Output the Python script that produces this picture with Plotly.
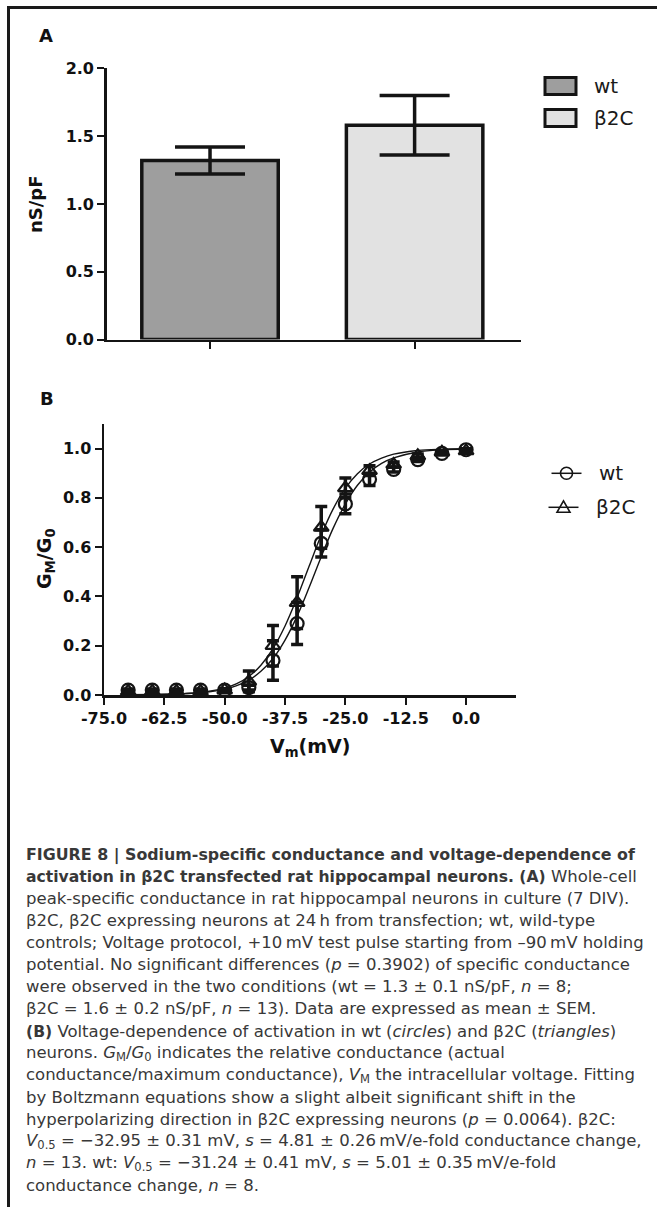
import plotly.graph_objects as go

W, H = 657, 1207


def px(x):
    return x / W


def py(y):
    return 1 - y / H


# ---------------- Panel A data ----------------
groups = ["wt", "β2C"]
group_pos = [0, 1]
conductance = [1.32, 1.58]
conductance_sem = [0.10, 0.22]
bar_colors = ["#9e9e9e", "#e2e2e2"]
a_yticks = [0.0, 0.5, 1.0, 1.5, 2.0]

# ---------------- Panel B data ----------------
vm = [-70, -65, -60, -55, -50, -45, -40, -35, -30, -25, -20, -15, -10, -5, 0]
g_wt = [0.02, 0.02, 0.02, 0.02, 0.02, 0.03, 0.14, 0.29, 0.615, 0.775, 0.875, 0.915, 0.955, 0.98, 0.995]
g_wt_sem = [0.004, 0.004, 0.004, 0.004, 0.004, 0.01, 0.08, 0.085, 0.055, 0.04, 0.025, 0.01, 0.008, 0.005, 0.004]
g_b2c = [0.015, 0.015, 0.015, 0.015, 0.02, 0.055, 0.20, 0.375, 0.68, 0.84, 0.91, 0.935, 0.97, 0.985, 0.99]
g_b2c_sem = [0.004, 0.004, 0.004, 0.004, 0.005, 0.042, 0.082, 0.105, 0.085, 0.04, 0.02, 0.01, 0.008, 0.005, 0.004]

# Boltzmann fit curves
fit_v = [-70, -65, -60, -55, -50, -47.5, -45, -42.5, -40, -37.5, -35, -32.5, -30,
         -27.5, -25, -22.5, -20, -17.5, -15, -10, -5, 0]
fit_wt = [0.001, 0.002, 0.004, 0.009, 0.023, 0.038, 0.06, 0.096, 0.148, 0.223, 0.32,
          0.437, 0.561, 0.678, 0.775, 0.851, 0.904, 0.94, 0.962, 0.986, 0.995, 0.998]
fit_b2c = [0.001, 0.0015, 0.004, 0.0104, 0.028, 0.046, 0.075, 0.121, 0.188, 0.28, 0.395,
           0.523, 0.649, 0.756, 0.839, 0.898, 0.937, 0.961, 0.977, 0.992, 0.997, 0.999]

b_xticks = [-75, -62.5, -50, -37.5, -25, -12.5, 0]
b_xticktext = ["-75.0", "-62.5", "-50.0", "-37.5", "-25.0", "-12.5", "0.0"]
b_yticks = [0.0, 0.2, 0.4, 0.6, 0.8, 1.0]

BSPAN = '<span style="font-size:15.6px"><b>{}</b></span>'
caption_lines = [
    '<span style="font-size:15.85px"><b>FIGURE 8 | Sodium-specific conductance and voltage-dependence of</b></span>',
    BSPAN.format("activation in β2C transfected rat hippocampal neurons. (A)") + " Whole-cell",
    "peak-specific conductance in rat hippocampal neurons in culture (7 DIV).",
    "β2C, β2C expressing neurons at 24\u2009h from transfection; wt, wild-type",
    "controls; Voltage protocol, +10\u2009mV test pulse starting from –90\u2009mV holding",
    "potential. No significant differences (<i>p</i> = 0.3902) of specific conductance",
    "were observed in the two conditions (wt = 1.3 ± 0.1 nS/pF, <i>n</i> = 8;",
    "β2C = 1.6 ± 0.2 nS/pF, <i>n</i> = 13). Data are expressed as mean ± SEM.",
    BSPAN.format("(B)") + " Voltage-dependence of activation in wt (<i>circles</i>) and β2C (<i>triangles</i>)",
    "neurons. <i>G</i><sub>M</sub>/<i>G</i><sub>0</sub> indicates the relative conductance (actual",
    "conductance/maximum conductance), <i>V</i><sub>M</sub> the intracellular voltage. Fitting",
    "by Boltzmann equations show a slight albeit significant shift in the",
    "hyperpolarizing direction in β2C expressing neurons (<i>p</i> = 0.0064). β2C:",
    "<i>V</i><sub>0.5</sub> = −32.95 ± 0.31 mV, <i>s</i> = 4.81 ± 0.26\u2009mV/e-fold conductance change,",
    "<i>n</i> = 13. wt: <i>V</i><sub>0.5</sub> = −31.24 ± 0.41 mV, <i>s</i> = 5.01 ± 0.35\u2009mV/e-fold",
    "conductance change, <i>n</i> = 8.",
]

FONT = "DejaVu Sans"
BOLD16 = dict(family=FONT, size=16, color="#111111", weight="bold")

fig = go.Figure()

# ---- Panel A bars ----
for i in range(len(groups)):
    fig.add_trace(go.Bar(
        x=[group_pos[i]], y=[conductance[i]], width=0.667, name=groups[i],
        marker=dict(color=bar_colors[i], line=dict(color="#141414", width=3.5)),
        error_y=dict(type="data", array=[conductance_sem[i]], color="#141414",
                     thickness=3.5, width=35),
        xaxis="x", yaxis="y", showlegend=False,
    ))

# ---- Panel B fitted curves ----
fig.add_trace(go.Scatter(x=fit_v, y=fit_wt, mode="lines", line=dict(color="#141414", width=1.4, shape="spline"),
                         xaxis="x2", yaxis="y2", showlegend=False, hoverinfo="skip"))
fig.add_trace(go.Scatter(x=fit_v, y=fit_b2c, mode="lines", line=dict(color="#141414", width=1.4, shape="spline"),
                         xaxis="x2", yaxis="y2", showlegend=False, hoverinfo="skip"))

# ---- Panel B data points ----
fig.add_trace(go.Scatter(
    x=vm, y=g_wt, mode="markers", name="wt",
    marker=dict(symbol="circle-open", size=13, color="#141414", line=dict(width=2.2)),
    error_y=dict(type="data", array=g_wt_sem, color="#141414", thickness=3.5, width=6),
    xaxis="x2", yaxis="y2", showlegend=False))
fig.add_trace(go.Scatter(
    x=vm, y=g_b2c, mode="markers", name="β2C",
    marker=dict(symbol="triangle-up-open", size=13, color="#141414", line=dict(width=2.2)),
    error_y=dict(type="data", array=g_b2c_sem, color="#141414", thickness=3.5, width=6),
    xaxis="x2", yaxis="y2", showlegend=False))

axis_common = dict(showline=True, linecolor="#141414", linewidth=2.5, ticks="outside",
                   tickcolor="#141414", tickwidth=2, ticklen=7, showgrid=False,
                   zeroline=False, fixedrange=True, tickfont=BOLD16, automargin=False)

fig.update_layout(
    width=W, height=H, autosize=False,
    margin=dict(l=0, r=0, t=0, b=0, pad=0, autoexpand=False),
    paper_bgcolor="white", plot_bgcolor="rgba(0,0,0,0)",
    showlegend=False,
    bargap=0,
    xaxis=dict(domain=[px(106.7), px(521)], range=[-0.505, 1.52], tickvals=group_pos,
               showticklabels=False, anchor="y", **axis_common),
    yaxis=dict(domain=[py(339.5), py(68.3)], range=[0, 2.0], tickvals=a_yticks,
               tickformat=".1f", anchor="x", **axis_common),
    xaxis2=dict(domain=[px(104), px(515.8)], range=[-75, 10.3], tickvals=b_xticks,
                ticktext=b_xticktext, anchor="y2", **axis_common),
    yaxis2=dict(domain=[py(695), py(423.85)], range=[0, 1.1], tickvals=b_yticks,
                tickformat=".1f", anchor="x2", **axis_common),
)

shapes = []
annots = []

# outer frame (top and left rules)
shapes.append(dict(type="line", xref="paper", yref="paper", x0=px(8.5), x1=px(657), y0=py(7.5), y1=py(7.5),
                   line=dict(color="#1a1a1a", width=3)))
shapes.append(dict(type="line", xref="paper", yref="paper", x0=px(8.5), x1=px(8.5), y0=py(6), y1=py(1207),
                   line=dict(color="#1a1a1a", width=3)))


def text(x, y, s, size, bold=False, color="#111111", xanchor="center", angle=0, family=FONT):
    annots.append(dict(xref="paper", yref="paper", x=px(x), y=py(y), text=s, showarrow=False,
                       xanchor=xanchor, yanchor="middle", textangle=angle,
                       font=dict(family=family, size=size, color=color,
                                 weight="bold" if bold else "normal")))


# panel labels
text(45.5, 36, "A", 18, bold=True)
text(46.5, 399, "B", 18, bold=True)

# axis titles
text(35, 204, "nS/pF", 18, bold=True, angle=-90)
text(45, 559, "G<sub>M</sub>/G<sub>0</sub>", 19, bold=True, angle=-90)
text(310, 748, "V<sub>m</sub>(mV)", 19, bold=True)

# legend A
legend_a_y = [86, 118]
for i in range(len(groups)):
    yc = legend_a_y[i]
    shapes.append(dict(type="rect", xref="paper", yref="paper", x0=px(545), x1=px(576),
                       y0=py(yc + 8.5), y1=py(yc - 8.5), fillcolor=bar_colors[i],
                       line=dict(color="#141414", width=3)))
    text(592, yc, groups[i], 20, xanchor="left", color="#1a1a1a")

# legend B
legend_b_y = [473.3, 507.3]
for i, yc in enumerate(legend_b_y):
    x0, x1 = (551.5, 581.5) if i == 0 else (548.5, 578.5)
    xc = (x0 + x1) / 2
    shapes.append(dict(type="line", xref="paper", yref="paper", x0=px(x0), x1=px(x1),
                       y0=py(yc), y1=py(yc), line=dict(color="#141414", width=1.5)))
    if i == 0:
        shapes.append(dict(type="circle", xref="paper", yref="paper", x0=px(xc - 6), x1=px(xc + 6),
                           y0=py(yc + 6), y1=py(yc - 6), line=dict(color="#141414", width=1.6)))
    else:
        path = "M {} {} L {} {} L {} {} Z".format(px(xc - 6.5), py(yc + 5), px(xc + 6.5), py(yc + 5),
                                                  px(xc), py(yc - 6.5))
        shapes.append(dict(type="path", xref="paper", yref="paper", path=path,
                           line=dict(color="#141414", width=1.6)))
    text(x1 + 15, yc, groups[i], 20, xanchor="left", color="#1a1a1a")

# caption
cap_y0 = 854.5
cap_dy = 22.07
for k, line in enumerate(caption_lines):
    text(24, cap_y0 + k * cap_dy, line, 16.5, xanchor="left", color="#383838")

fig.update_layout(shapes=shapes, annotations=annots)
fig.write_html("out.html", config={"displayModeBar": False, "staticPlot": True},
               post_script="document.body.style.margin='0';")
